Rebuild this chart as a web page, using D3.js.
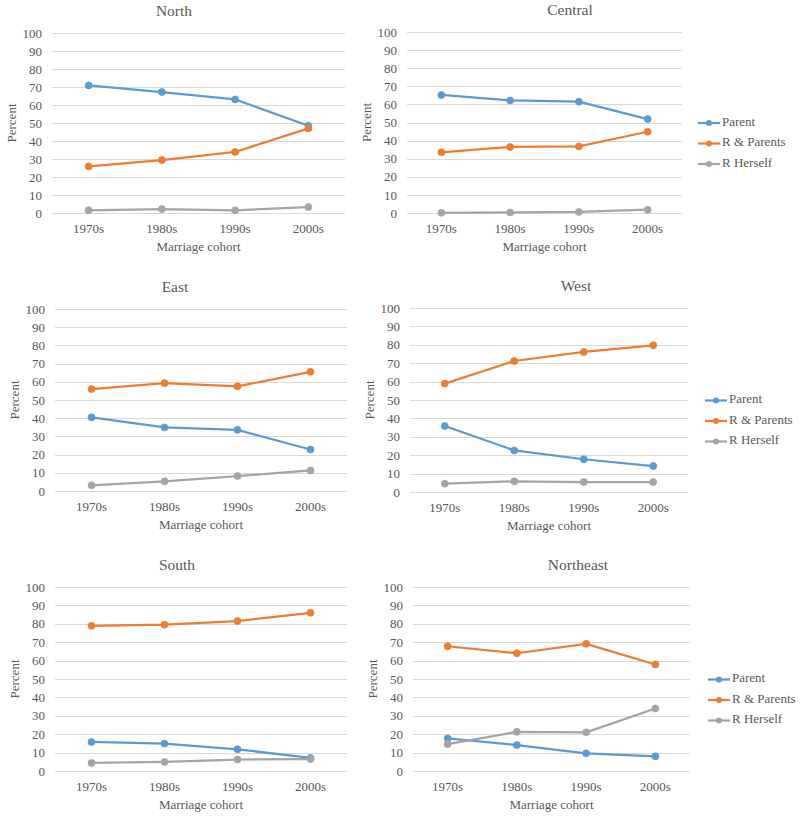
<!DOCTYPE html>
<html>
<head>
<meta charset="utf-8">
<script src="https://cdn.jsdelivr.net/npm/d3@7"></script>
</head>
<body style="margin:0;padding:0;background:#fff;">
<svg id="chart" width="800" height="817" style="display:block;"></svg>
<script>
// ---------- data ----------
const categories = ["1970s", "1980s", "1990s", "2000s"];
const regions = ["North", "Central", "East", "West", "South", "Northeast"];
const seriesNames = ["Parent", "R & Parents", "R Herself"];
const yTicks = [0, 10, 20, 30, 40, 50, 60, 70, 80, 90, 100];

const parentVals = [
  [70.9, 67.2, 63.1, 48.5],
  [65.2, 62.2, 61.5, 51.9],
  [40.5, 34.9, 33.6, 22.8],
  [35.9, 22.6, 17.8, 14.1],
  [15.8, 14.9, 11.8, 7.1],
  [17.7, 14.1, 9.6, 8.0]
];
const rParentsVals = [
  [25.9, 29.4, 33.9, 47.0],
  [33.5, 36.5, 36.8, 44.9],
  [56.0, 59.3, 57.5, 65.5],
  [58.9, 71.2, 76.1, 79.7],
  [78.9, 79.5, 81.5, 86.0],
  [67.8, 64.0, 69.1, 57.9]
];
const herselfVals = [
  [1.5, 2.2, 1.5, 3.3],
  [0.1, 0.3, 0.6, 1.8],
  [3.1, 5.3, 8.2, 11.3],
  [4.5, 5.8, 5.4, 5.4],
  [4.4, 4.9, 6.2, 6.5],
  [14.6, 21.3, 21.0, 34.0]
];

// ---------- layout / style ----------
const FONT = '"Liberation Serif"';
const TXT = "#595959";
const colors = ["#5B9BD5", "#ED7D31", "#A5A5A5"];
const panels = [
  { x0: 52,  x1: 345, y0: 33,  y1: 213, titleX: 174, legend: false },
  { x0: 407, x1: 682, y0: 32,  y1: 213, titleX: 570, legend: true, legendX: 698 },
  { x0: 55,  x1: 347, y0: 309, y1: 491, titleX: 175, legend: false },
  { x0: 410, x1: 688, y0: 308, y1: 492, titleX: 576, legend: true, legendX: 705 },
  { x0: 55,  x1: 347, y0: 587, y1: 771, titleX: 177, legend: false },
  { x0: 413, x1: 690, y0: 587, y1: 771, titleX: 578, legend: true, legendX: 708 }
];

const svg = d3.select("#chart");
const allSeries = [parentVals, rParentsVals, herselfVals];

function styleText(sel, size) {
  return sel.attr("font-family", "Liberation Serif")
    .style("font-family", FONT).style("font-size", size).style("fill", TXT);
}

regions.forEach((name, i) => {
  const p = panels[i];
  const g = svg.append("g");
  const x = d3.scaleBand().domain(categories).range([p.x0, p.x1]);
  const y = d3.scaleLinear().domain([0, 100]).range([p.y1, p.y0]);

  // gridlines
  g.selectAll(null).data(yTicks).enter().append("line")
    .attr("x1", p.x0).attr("x2", p.x1)
    .attr("y1", d => Math.round(y(d)) + 0.5).attr("y2", d => Math.round(y(d)) + 0.5)
    .attr("stroke", "#D9D9D9").attr("stroke-width", 1);

  // y axis labels
  const yAxis = d3.axisLeft(y).tickValues(yTicks).tickSize(0).tickPadding(10);
  const ya = g.append("g").attr("transform", `translate(${p.x0},0)`).call(yAxis)
    .attr("font-family", "Liberation Serif");
  ya.select(".domain").remove();
  styleText(ya.selectAll("text"), "13px");

  // x axis labels
  const xAxis = d3.axisBottom(x).tickSize(0).tickPadding(11);
  const xa = g.append("g").attr("transform", `translate(0,${p.y1})`).call(xAxis)
    .attr("font-family", "Liberation Serif");
  xa.select(".domain").remove();
  styleText(xa.selectAll("text"), "13px");

  // titles
  styleText(g.append("text").attr("x", p.titleX).attr("y", p.y0 - 21)
    .attr("text-anchor", "middle").attr("dominant-baseline", "middle"), "15.5px").text(name);
  styleText(g.append("text").attr("x", (p.x0 + p.x1) / 2).attr("y", p.y1 + 35)
    .attr("text-anchor", "middle").attr("dominant-baseline", "middle"), "13px").text("Marriage cohort");
  styleText(g.append("text")
    .attr("transform", `translate(${p.x0 - 39},${(p.y0 + p.y1) / 2}) rotate(-90)`)
    .attr("text-anchor", "middle").attr("dominant-baseline", "middle"), "13px").text("Percent");

  // series
  const cx = (d, j) => x(categories[j]) + x.bandwidth() / 2;
  const line = d3.line().x(cx).y(d => y(d));
  allSeries.forEach((s, k) => {
    const vals = s[i];
    g.append("path").datum(vals).attr("d", line)
      .attr("fill", "none").attr("stroke", colors[k]).attr("stroke-width", 2.25)
      .attr("stroke-linejoin", "round").attr("stroke-linecap", "round");
    g.selectAll(null).data(vals).enter().append("circle")
      .attr("cx", cx).attr("cy", d => y(d)).attr("r", 3.5)
      .attr("fill", colors[k]).attr("stroke", colors[k]).attr("stroke-width", 0.75);
  });

  // legend
  if (p.legend) {
    const midY = (p.y0 + p.y1) / 2 + 21;
    seriesNames.forEach((sn, k) => {
      const ly = midY + (k - 1) * 20.5;
      g.append("line").attr("x1", p.legendX).attr("x2", p.legendX + 22)
        .attr("y1", ly).attr("y2", ly).attr("stroke", colors[k]).attr("stroke-width", 2.25);
      g.append("circle").attr("cx", p.legendX + 11).attr("cy", ly).attr("r", 3)
        .attr("fill", colors[k]);
      styleText(g.append("text").attr("x", p.legendX + 24).attr("y", ly)
        .attr("dominant-baseline", "middle"), "13px").text(sn);
    });
  }
});
</script>
</body>
</html>
